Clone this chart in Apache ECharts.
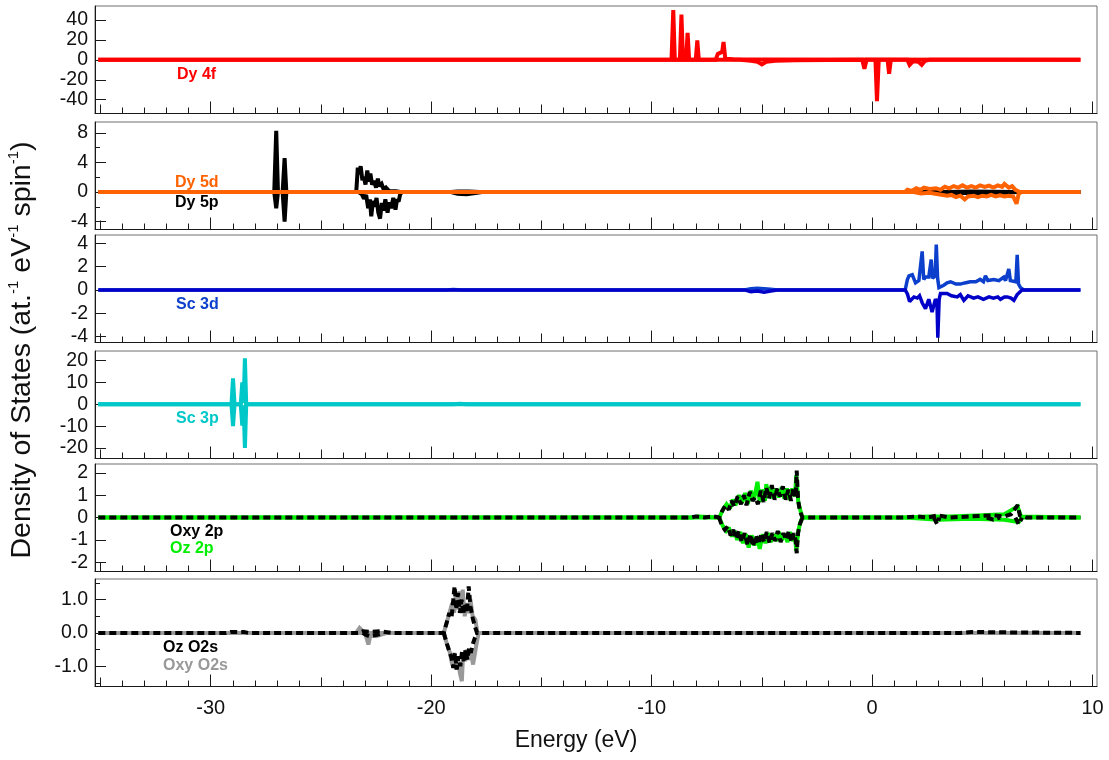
<!DOCTYPE html>
<html>
<head>
<meta charset="utf-8">
<script src="https://cdn.jsdelivr.net/npm/echarts@6/dist/echarts.min.js"></script>
<style>
  html, body { margin: 0; padding: 0; background: #fff; }
  #chart { width: 1109px; height: 760px; }
</style>
</head>
<body>
<div id="chart"></div>
<script>
// ---- Projected DOS, [energy (eV), states] pairs; spin up positive, spin down negative ----
// A '-' value breaks a line, so the zero baseline is drawn only once per dashed pair.
const dy4fUp = [[-35.1,0],[-9.1,0],[-9.02,50],[-8.95,0],[-8.72,0],[-8.65,45.5],[-8.58,0],[-8.44,0],[-8.37,27],[-8.3,0],[-8.0,0],[-7.93,19.5],[-7.86,0],[-7.1,0],[-7.0,6],[-6.9,7],[-6.8,8],[-6.74,18],[-6.66,1],[-6.3,0.5],[-5.5,0.3],[9.45,0]];
const dy4fDown = [[-35.1,0],[-6,0],[-5.5,-1],[-5.2,-2],[-5.0,-4.5],[-4.8,-2],[-4.4,-0.8],[-3.5,-0.3],[-0.45,0],[-0.35,-9],[-0.25,0],[0.15,0],[0.22,-41.5],[0.3,0],[0.7,0],[0.77,-14],[0.85,0],[1.6,0],[1.7,-5],[1.85,-1.5],[2.1,-2],[2.25,-5],[2.4,-1],[2.6,0],[9.45,0]];

const dy5pUp = [[-35.1,0],[-27.12,0],[-27.03,8.3],[-26.95,0],[-26.74,0],[-26.65,4.6],[-26.57,0],[-23.4,0],[-23.33,3.3],[-23.26,2.4],[-23.2,3.5],[-23.12,1.6],[-23.05,2.0],[-22.98,1.0],[-22.9,2.9],[-22.82,1.4],[-22.76,2.5],[-22.68,1.0],[-22.6,1.5],[-22.5,0.6],[-22.42,1.8],[-22.35,0.8],[-22.25,1.1],[-22.15,0.3],[-22.05,0.6],[-21.9,0.1],[-21.6,0.1],[-21.4,0],[-19.1,0],[-18.8,0.05],[-18.3,0.05],[-17.8,0],[3.4,0],[4.5,0.05],[6.5,0],[9.45,0]];
const dy5pDown = [[-35.1,0],[-27.12,0],[-27.03,-2.2],[-26.95,0],[-26.74,0],[-26.65,-4.0],[-26.57,0],[-23.3,0],[-23.15,-0.3],[-23.05,-0.9],[-22.95,-0.4],[-22.86,-2.2],[-22.78,-1.0],[-22.72,-3.3],[-22.64,-1.2],[-22.56,-2.0],[-22.48,-0.8],[-22.4,-2.8],[-22.32,-3.6],[-22.24,-1.5],[-22.16,-2.5],[-22.08,-1.0],[-21.98,-2.8],[-21.9,-1.4],[-21.82,-2.2],[-21.72,-0.8],[-21.62,-2.4],[-21.55,-1.0],[-21.48,-1.3],[-21.4,-0.2],[-21.3,0],[-19.1,0],[-18.8,-0.25],[-18.4,-0.3],[-18.0,-0.15],[-17.7,0],[3.4,0],[3.8,-0.15],[4.5,-0.1],[5.2,-0.15],[6.0,-0.1],[6.6,0],[9.45,0]];

const dy5dUp = [[-35.1,0],[1.5,0],[1.6,0.3],[1.8,0.15],[2.0,0.5],[2.2,0.3],[2.35,0.6],[2.6,0.4],[2.9,0.5],[3.1,0.3],[3.3,0.7],[3.5,0.5],[3.7,0.8],[3.9,0.6],[4.1,0.9],[4.3,0.6],[4.5,0.8],[4.7,0.6],[4.9,0.9],[5.1,0.7],[5.3,0.85],[5.5,0.6],[5.7,0.9],[5.9,0.7],[6.0,1.1],[6.2,0.6],[6.35,0.8],[6.5,0.3],[6.7,0],[9.45,0]];
const dy5dDown = [[-35.1,0],[1.9,0],[2.2,-0.2],[2.6,-0.1],[3.0,-0.3],[3.4,-0.5],[3.6,-0.4],[3.8,-0.7],[4.0,-0.5],[4.2,-1.0],[4.35,-0.6],[4.6,-0.5],[4.8,-0.7],[5.0,-0.5],[5.2,-0.6],[5.4,-0.4],[5.6,-0.6],[5.8,-0.45],[6.0,-0.6],[6.2,-0.5],[6.4,-0.6],[6.55,-1.6],[6.65,-0.2],[6.8,0],[9.45,0]];

const sc3dUp = [[-35.1,0],[-19.3,0],[-19.0,0.03],[-18.6,0],[-5.8,0],[-5.5,0.1],[-5.2,0.15],[-4.9,0.1],[-4.6,0.05],[-4.3,0],[1.5,0],[1.6,0.9],[1.67,1.2],[1.82,1.3],[1.97,0.6],[2.12,0.8],[2.2,0.7],[2.27,3.3],[2.34,0.9],[2.42,1.1],[2.57,1.1],[2.62,1.0],[2.68,2.6],[2.74,1.0],[2.8,1.1],[2.86,1.2],[2.91,3.9],[2.97,1.0],[3.03,0.2],[3.25,0.4],[3.4,0.6],[3.56,0.7],[3.8,0.5],[4.0,0.5],[4.2,0.6],[4.45,0.7],[4.7,0.7],[4.9,0.9],[5.05,0.7],[5.14,1.2],[5.25,0.8],[5.52,0.9],[5.75,0.8],[5.97,1.1],[6.05,0.8],[6.2,1.8],[6.27,0.8],[6.35,0.7],[6.52,0.7],[6.58,3.0],[6.64,0.5],[6.73,0.2],[6.88,0],[9.45,0]];
const sc3dDown = [[-35.1,0],[-5.8,0],[-5.5,-0.15],[-5.2,-0.1],[-4.9,-0.2],[-4.6,-0.1],[-4.3,0],[1.5,0],[1.6,-0.35],[1.7,-1.0],[1.9,-0.6],[2.05,-0.7],[2.15,-0.5],[2.27,-1.1],[2.42,-1.6],[2.57,-0.8],[2.72,-1.9],[2.87,-0.8],[2.94,-1.0],[2.98,-4.1],[3.04,-0.8],[3.1,-0.3],[3.4,-0.3],[3.6,-0.5],[3.86,-0.6],[4.0,-0.4],[4.16,-0.9],[4.35,-0.5],[4.6,-0.7],[4.8,-0.6],[5.05,-0.8],[5.3,-0.6],[5.5,-0.7],[5.7,-0.6],[5.82,-0.8],[6.0,-0.6],[6.13,-0.6],[6.3,-0.7],[6.43,-0.9],[6.58,-0.4],[6.8,0],[9.45,0]];

const sc3pUp = [[-35.1,0],[-29.06,0],[-28.99,11.9],[-28.92,0],[-28.64,0],[-28.57,10],[-28.51,0.5],[-28.45,21],[-28.39,0],[-19,0],[-18.7,0.2],[-18.4,0],[9.45,0]];
const sc3pDown = [[-35.1,0],[-29.06,0],[-28.99,-10],[-28.92,0],[-28.64,0],[-28.57,-9.7],[-28.51,-0.5],[-28.45,-20],[-28.39,0],[9.45,0]];

const oxy2pUp = [[-35.1,0],[-8.2,0],[-8.0,0.05],[-7.6,0],[-7.2,0.05],[-6.94,0],[-6.8,0.3],[-6.65,0.55],[-6.5,0.35],[-6.38,0.75],[-6.25,0.5],[-6.1,0.95],[-5.95,0.6],[-5.82,1.0],[-5.7,0.55],[-5.55,1.15],[-5.42,0.75],[-5.3,0.9],[-5.18,0.6],[-5.05,1.2],[-4.92,0.7],[-4.8,1.35],[-4.68,0.85],[-4.55,1.45],[-4.42,0.8],[-4.3,1.3],[-4.18,0.95],[-4.05,1.4],[-3.92,0.8],[-3.8,1.25],[-3.68,0.75],[-3.56,1.35],[-3.47,0.9],[-3.42,2.1],[-3.36,0.8],[-3.28,0.3],[-3.16,0],[1.5,0],[2.0,0.05],[2.5,0],[3.0,0.1],[3.5,0],[4.5,0.05],[5.5,0.1],[6.0,0.05],[6.3,0.15],[6.6,0.55],[6.7,0.1],[7.0,0],[9.45,0]];
const oxy2pDown = [[-6.94,0],[-6.82,-0.35],[-6.68,-0.55],[-6.55,-0.4],[-6.42,-0.8],[-6.3,-0.55],[-6.18,-0.95],[-6.05,-0.6],[-5.92,-1.1],[-5.78,-0.7],[-5.65,-1.25],[-5.52,-0.75],[-5.4,-1.3],[-5.28,-0.8],[-5.15,-1.2],[-5.02,-0.7],[-4.9,-1.1],[-4.78,-0.65],[-4.65,-1.15],[-4.52,-0.7],[-4.4,-1.05],[-4.28,-0.6],[-4.15,-1.1],[-4.02,-0.7],[-3.9,-1.0],[-3.78,-0.6],[-3.65,-1.1],[-3.55,-0.7],[-3.47,-1.0],[-3.42,-1.6],[-3.36,-0.7],[-3.28,-0.3],[-3.16,0],[-3.0,'-'],[2.8,0],[2.95,-0.3],[3.05,0],[3.2,'-'],[5.2,0],[5.5,-0.1],[5.8,0],[6.0,'-'],[6.5,0],[6.65,-0.3],[6.8,0]];
const oz2pUp = [[-35.1,0],[-8.2,0],[-7.9,0.05],[-6.94,0],[-6.74,0.4],[-6.6,0.6],[-6.45,0.4],[-6.32,0.8],[-6.2,0.55],[-6.04,1.0],[-5.9,0.65],[-5.76,1.1],[-5.64,0.6],[-5.5,1.2],[-5.36,0.8],[-5.2,1.6],[-5.1,0.7],[-5.0,1.25],[-4.86,0.75],[-4.8,1.5],[-4.7,0.9],[-4.6,1.35],[-4.48,0.85],[-4.36,1.3],[-4.24,0.9],[-4.1,1.35],[-3.98,0.85],[-3.86,1.3],[-3.74,0.8],[-3.62,1.3],[-3.5,0.95],[-3.44,1.9],[-3.35,0.7],[-3.25,0.3],[-3.16,0],[1.5,0],[2.5,0.05],[3.5,0.05],[5.0,0.1],[6.0,0.15],[6.6,0.5],[6.75,0.05],[9.45,0]];
const oz2pDown = [[-35.1,0],[-6.94,0],[-6.76,-0.4],[-6.62,-0.6],[-6.5,-0.45],[-6.36,-0.85],[-6.24,-0.6],[-6.12,-1.0],[-5.98,-0.65],[-5.86,-1.15],[-5.72,-0.75],[-5.6,-1.35],[-5.46,-0.8],[-5.34,-1.25],[-5.22,-0.85],[-5.1,-1.4],[-4.96,-0.75],[-4.84,-1.15],[-4.72,-0.7],[-4.6,-1.1],[-4.46,-0.75],[-4.34,-1.05],[-4.22,-0.65],[-4.1,-1.0],[-3.96,-0.75],[-3.84,-1.1],[-3.72,-0.65],[-3.6,-1.05],[-3.5,-0.8],[-3.44,-1.5],[-3.35,-0.6],[-3.25,-0.2],[-3.16,0],[1.5,0],[3.0,-0.1],[4.5,-0.05],[6.0,-0.1],[6.65,-0.2],[6.8,0],[9.45,0]];

const ozO2sUp = [[-35.1,0],[-29.3,0],[-29.1,0.03],[-28.5,0.03],[-28.3,0],[-23.3,0],[-23.1,0.05],[-22.7,0.03],[-22.3,0.05],[-21.8,0],[-19.43,0],[-19.3,0.3],[-19.18,0.6],[-19.08,0.45],[-19.0,1.0],[-18.94,1.4],[-18.86,0.7],[-18.78,1.2],[-18.7,0.6],[-18.62,1.0],[-18.54,0.55],[-18.46,0.9],[-18.38,0.6],[-18.3,1.4],[-18.22,0.8],[-18.12,0.45],[-18.02,0.2],[-17.92,0],[4,0],[4.5,0.03],[5.5,0.02],[9.45,0]];
const ozO2sDown = [[-23.1,0],[-23.0,-0.05],[-22.8,-0.1],[-22.4,-0.05],[-22.2,0],[-22.0,'-'],[-19.43,0],[-19.3,-0.3],[-19.18,-0.55],[-19.08,-0.75],[-19.0,-1.05],[-18.92,-0.6],[-18.84,-1.1],[-18.76,-0.7],[-18.68,-1.0],[-18.6,-0.55],[-18.52,-0.85],[-18.44,-0.5],[-18.36,-0.8],[-18.28,-0.45],[-18.2,-0.6],[-18.12,-0.35],[-18.02,-0.15],[-17.92,0]];
const oxyO2sUp = [[-35.1,0],[-23.4,0],[-23.25,0.15],[-23.1,0.05],[-22.9,0],[-19.43,0],[-19.28,0.35],[-19.15,0.65],[-19.05,0.9],[-18.96,0.6],[-18.88,1.2],[-18.8,0.7],[-18.72,1.25],[-18.64,0.6],[-18.57,1.3],[-18.48,0.5],[-18.4,0.9],[-18.3,0.6],[-18.22,1.0],[-18.12,0.5],[-18.0,0.4],[-17.9,0],[9.45,0]];
const oxyO2sDown = [[-35.1,0],[-23.0,0],[-22.85,-0.35],[-22.75,-0.05],[-22.5,-0.1],[-22.0,0],[-19.43,0],[-19.28,-0.35],[-19.15,-0.6],[-19.05,-0.95],[-18.96,-0.6],[-18.88,-1.1],[-18.8,-0.7],[-18.7,-1.2],[-18.61,-1.45],[-18.55,-0.6],[-18.46,-0.85],[-18.38,-0.5],[-18.3,-0.8],[-18.2,-0.6],[-18.1,-0.95],[-18.02,-0.9],[-17.95,-0.35],[-17.85,0],[9.45,0]];

// ---- Tick positions and labels ----
const energyLabels = [-30, -20, -10, 0, 10];
const energyTicks5 = [-35, -25, -15, -5, 5];
const energyTicks1 = [-34,-33,-32,-31,-29,-28,-27,-26,-24,-23,-22,-21,-19,-18,-17,-16,-14,-13,-12,-11,-9,-8,-7,-6,-4,-3,-2,-1,1,2,3,4,6,7,8,9];
const yTicksDy4f = [-40, -20, 0, 20, 40];
const yTicksDy5 = [-4, 0, 4, 8];
const yMinorDy5 = [-2, 2, 6];
const yTicksSc3d = [-4, -2, 0, 2, 4];
const yTicksSc3p = [-20, -10, 0, 10, 20];
const yTicksO2p = [-2, -1, 0, 1, 2];
const yTicksO2s = [-1, 0, 1];
const yMinorO2s = [-1.5, -0.5, 0.5, 1.5];

const FONT = '"Liberation Sans", Arial, Helvetica, sans-serif';
const E_MIN = -35.25, E_MAX = 10.2;
const PANEL_H = 107.5;

const panels = [
  { top: 6,   min: -53.8, max: 54,   ticks: yTicksDy4f, minor: [], fmt: v => String(v) },
  { top: 122, min: -5.08, max: 9.48, ticks: yTicksDy5,  minor: yMinorDy5, fmt: v => String(v) },
  { top: 235, min: -4.51, max: 4.71, ticks: yTicksSc3d, minor: [], fmt: v => String(v) },
  { top: 351, min: -24.8, max: 24.4, ticks: yTicksSc3p, minor: [], fmt: v => String(v) },
  { top: 464, min: -2.42, max: 2.4,  ticks: yTicksO2p,  minor: [], fmt: v => String(v) },
  { top: 579, min: -1.61, max: 1.62, ticks: yTicksO2s,  minor: yMinorO2s, fmt: v => Number(v).toFixed(1) }
];

const grid = [], xAxis = [], yAxis = [];
panels.forEach((p, i) => {
  grid.push({ left: 95, right: 12, top: p.top, height: PANEL_H, show: true,
              borderColor: '#6e6e6e', borderWidth: 1, containLabel: false });
  const base = { type: 'value', gridIndex: i, position: 'bottom', min: E_MIN, max: E_MAX,
                 splitLine: { show: false } };
  xAxis.push(Object.assign({}, base, {
    axisLine: { show: true, onZero: false, lineStyle: { color: '#1a1a1a', width: 1 } },
    axisTick: { show: true, inside: true, length: 12, customValues: energyLabels, lineStyle: { color: '#1a1a1a', width: 1 } },
    axisLabel: { show: i === panels.length - 1, customValues: energyLabels, margin: 12,
                 fontSize: 20, color: '#111', fontFamily: FONT }
  }));
  xAxis.push(Object.assign({}, base, {
    axisLine: { show: false, onZero: false },
    axisTick: { show: true, inside: true, length: 9, customValues: energyTicks5, lineStyle: { color: '#1a1a1a', width: 1 } },
    axisLabel: { show: false }
  }));
  xAxis.push(Object.assign({}, base, {
    axisLine: { show: false, onZero: false },
    axisTick: { show: true, inside: true, length: 6, customValues: energyTicks1, lineStyle: { color: '#1a1a1a', width: 1 } },
    axisLabel: { show: false }
  }));
  const ybase = { type: 'value', gridIndex: i, position: 'left', min: p.min, max: p.max,
                  splitLine: { show: false } };
  yAxis.push(Object.assign({}, ybase, {
    axisLine: { show: true, onZero: false, lineStyle: { color: '#1a1a1a', width: 1 } },
    axisTick: { show: true, inside: true, length: 11, customValues: p.ticks, lineStyle: { color: '#1a1a1a', width: 1 } },
    axisLabel: { customValues: p.ticks, formatter: p.fmt, margin: 7, fontSize: 19.5, color: '#111', fontFamily: FONT }
  }));
  yAxis.push(Object.assign({}, ybase, {
    axisLine: { show: false, onZero: false },
    axisTick: { show: p.minor.length > 0, inside: true, length: 5, customValues: p.minor.length ? p.minor : [0], lineStyle: { color: '#1a1a1a', width: 1 } },
    axisLabel: { show: false }
  }));
});

function line(name, data, panel, color, width, dash, z) {
  return {
    name, type: 'line', data, xAxisIndex: panel * 3, yAxisIndex: panel * 2,
    showSymbol: false, symbol: 'none', clip: true, connectNulls: false, z: z || 2, silent: true,
    lineStyle: { color, width, type: dash ? [7, 4] : 'solid', cap: 'butt', join: 'miter', miterLimit: 2 }
  };
}

const RED = '#ff0000', ORANGE = '#ff6200', BLUE_UP = '#0b3fcc', BLUE_DN = '#0000c8',
      CYAN = '#00c8c8', GREEN = '#00ee00', GREY = '#999999', BLACK = '#000000';

const series = [
  line('Dy 4f up', dy4fUp, 0, RED, 4),
  line('Dy 4f down', dy4fDown, 0, RED, 4),
  line('Dy 5p up', dy5pUp, 1, BLACK, 4, false, 2),
  line('Dy 5p down', dy5pDown, 1, BLACK, 4, false, 2),
  line('Dy 5d up', dy5dUp, 1, ORANGE, 4, false, 3),
  line('Dy 5d down', dy5dDown, 1, ORANGE, 4, false, 3),
  line('Sc 3d up', sc3dUp, 2, BLUE_UP, 3.5),
  line('Sc 3d down', sc3dDown, 2, BLUE_DN, 3.5),
  line('Sc 3p up', sc3pUp, 3, CYAN, 4),
  line('Sc 3p down', sc3pDown, 3, CYAN, 4),
  line('Oz 2p up', oz2pUp, 4, GREEN, 4, false, 2),
  line('Oz 2p down', oz2pDown, 4, GREEN, 4, false, 2),
  line('Oxy 2p up', oxy2pUp, 4, BLACK, 4, true, 3),
  line('Oxy 2p down', oxy2pDown, 4, BLACK, 4, true, 3),
  line('Oxy O2s up', oxyO2sUp, 5, GREY, 4, false, 2),
  line('Oxy O2s down', oxyO2sDown, 5, GREY, 4, false, 2),
  line('Oz O2s up', ozO2sUp, 5, BLACK, 4, true, 3),
  line('Oz O2s down', ozO2sDown, 5, BLACK, 4, true, 3)
];

// Panel captions
const captions = [
  ['Dy 4f', 177, 75, RED],
  ['Dy 5d', 175, 183, ORANGE],
  ['Dy 5p', 175, 203, BLACK],
  ['Sc 3d', 176, 305, BLUE_UP],
  ['Sc 3p', 176, 419, CYAN],
  ['Oxy 2p', 170, 532, BLACK],
  ['Oz 2p', 170, 549, GREEN],
  ['Oz O2s', 163, 648, BLACK],
  ['Oxy O2s', 163, 666, GREY]
];
const graphic = captions.map(([t, x, y, c]) => ({
  type: 'text', x, y, z: 10, silent: true,
  style: { text: t, fill: c, font: 'bold 16px ' + FONT, textAlign: 'left', textVerticalAlign: 'middle' }
}));

graphic.push({
  type: 'text', x: 576, y: 741, silent: true,
  style: { text: 'Energy (eV)', fill: '#111', font: '23px ' + FONT, textAlign: 'center', textVerticalAlign: 'middle' }
});
graphic.push({
  type: 'text', x: 22, y: 350, rotation: Math.PI / 2, silent: true,
  style: {
    text: '{a|Density of States (at.}{s|-1}{a| eV}{s|-1}{a| spin}{s|-1}{a|)}',
    textAlign: 'center', textVerticalAlign: 'middle', fill: '#111',
    rich: {
      a: { fontSize: 28.5, fontFamily: FONT, fill: '#111', lineHeight: 32 },
      s: { fontSize: 15, fontFamily: FONT, fill: '#111', padding: [0, 0, 17, 0] }
    }
  }
});

const chart = echarts.init(document.getElementById('chart'), null, { renderer: 'canvas' });
chart.setOption({
  animation: false,
  backgroundColor: '#ffffff',
  grid, xAxis, yAxis, series, graphic
});
</script>
</body>
</html>
